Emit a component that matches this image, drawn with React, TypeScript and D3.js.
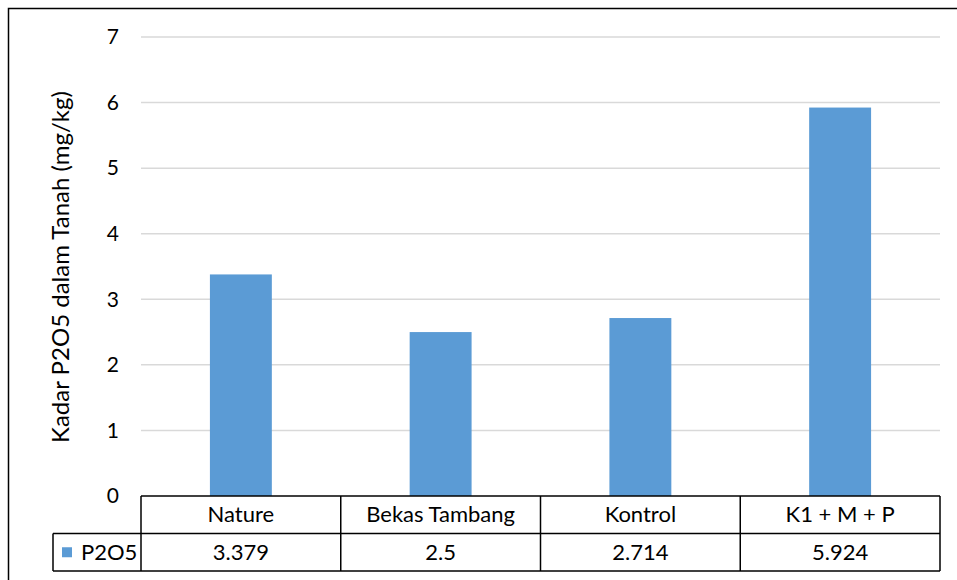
import React, { useEffect, useRef } from 'react';
import * as d3 from 'd3';

const categories = ['Nature', 'Bekas Tambang', 'Kontrol', 'K1 + M + P'];
const values = [3.379, 2.5, 2.714, 5.924];
const valueLabels = ['3.379', '2.5', '2.714', '5.924'];
const yTicks = [0, 1, 2, 3, 4, 5, 6, 7];
const seriesName = 'P2O5';
const yTitle = 'Kadar P2O5 dalam Tanah (mg/kg)';

const W = 957;
const H = 580;
const FONT = 'Lato, "Open Sans", sans-serif';

export default function App() {
  const svgRef = useRef<SVGSVGElement>(null);

  useEffect(() => {
    if (!svgRef.current) return;
    const svg = d3.select(svgRef.current);
    svg.selectAll('*').remove();

    const left = 141, right = 940, top = 37, bottom = 496;
    const rowH = 37.5;

    const x = d3.scaleBand<string>()
      .domain(categories)
      .range([left, right])
      .paddingInner(0.69)
      .paddingOuter(0.345);
    const col = d3.scaleBand<string>().domain(categories).range([left, right]);
    const y = d3.scaleLinear().domain([0, 7]).range([bottom, top]);

    // outer frame
    svg.append('rect')
      .attr('x', 8.5).attr('y', 8.5)
      .attr('width', W + 20).attr('height', H + 20)
      .attr('fill', 'none').attr('stroke', '#000').attr('stroke-width', 1.5);

    // gridlines
    svg.append('g')
      .selectAll('line')
      .data(yTicks.slice(1))
      .join('line')
      .attr('x1', left).attr('x2', right)
      .attr('y1', d => y(d)).attr('y2', d => y(d))
      .attr('stroke', '#d9d9d9').attr('stroke-width', 1.5);

    // tick labels
    svg.append('g')
      .selectAll('text')
      .data(yTicks)
      .join('text')
      .attr('x', 119)
      .attr('y', d => y(d))
      .attr('dy', '0.35em')
      .attr('text-anchor', 'end')
      .style('font', `21px ${FONT}`)
      .attr('fill', '#000')
      .text(d => d);

    // y title
    svg.append('text')
      .attr('transform', `translate(61,267) rotate(-90)`)
      .attr('text-anchor', 'middle')
      .attr('dy', '0.35em')
      .style('font', `24px ${FONT}`)
      .text(yTitle);

    // bars
    svg.append('g')
      .selectAll('rect')
      .data(values)
      .join('rect')
      .attr('x', (d, i) => x(categories[i])!)
      .attr('width', x.bandwidth())
      .attr('y', d => y(d))
      .attr('height', d => y(0) - y(d))
      .attr('fill', '#5b9bd5');

    // data table
    const tbl = svg.append('g')
      .attr('stroke', '#000').attr('stroke-width', 1.5).attr('fill', 'none');
    const legendLeft = 53;
    tbl.append('line').attr('x1', left).attr('x2', right).attr('y1', bottom).attr('y2', bottom);
    tbl.append('line').attr('x1', legendLeft).attr('x2', right).attr('y1', bottom + rowH).attr('y2', bottom + rowH);
    tbl.append('line').attr('x1', legendLeft).attr('x2', right).attr('y1', bottom + 2 * rowH).attr('y2', bottom + 2 * rowH);
    tbl.append('line').attr('x1', legendLeft).attr('x2', legendLeft).attr('y1', bottom + rowH).attr('y2', bottom + 2 * rowH);
    tbl.selectAll('line.v')
      .data(categories.map(c => col(c)!).concat([right]))
      .join('line')
      .attr('class', 'v')
      .attr('x1', d => d).attr('x2', d => d)
      .attr('y1', bottom).attr('y2', bottom + 2 * rowH);

    svg.append('g')
      .selectAll('text')
      .data(categories)
      .join('text')
      .attr('x', d => col(d)! + col.bandwidth() / 2)
      .attr('y', bottom + rowH / 2)
      .attr('dy', '0.35em')
      .attr('text-anchor', 'middle')
      .style('font', `22px ${FONT}`)
      .text(d => d);

    svg.append('g')
      .selectAll('text')
      .data(valueLabels)
      .join('text')
      .attr('x', (d, i) => col(categories[i])! + col.bandwidth() / 2)
      .attr('y', bottom + rowH * 1.5)
      .attr('dy', '0.35em')
      .attr('text-anchor', 'middle')
      .style('font', `22px ${FONT}`)
      .text(d => d);

    // legend key
    svg.append('rect')
      .attr('x', 62).attr('y', bottom + rowH * 1.5 - 5)
      .attr('width', 10).attr('height', 10)
      .attr('fill', '#5b9bd5');
    svg.append('text')
      .attr('x', 81)
      .attr('y', bottom + rowH * 1.5)
      .attr('dy', '0.35em')
      .style('font', `22px ${FONT}`)
      .text(seriesName);
  }, []);

  return (
    <svg
      ref={svgRef}
      width={W}
      height={H}
      style={{ position: 'absolute', left: 0, top: 0, background: '#fff' }}
    />
  );
}
